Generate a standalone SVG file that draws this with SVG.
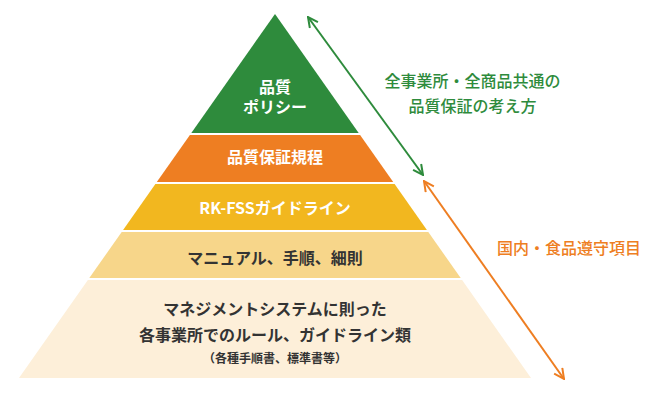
<svg xmlns="http://www.w3.org/2000/svg" width="654" height="406" viewBox="0 0 654 406">
<style>
text{font-family:"Noto Sans CJK JP","Noto Sans",sans-serif;text-anchor:middle;}
.w{fill:#ffffff;font-size:16px;font-weight:bold;}
.d{fill:#333333;font-size:16px;font-weight:bold;}
.s{fill:#333333;font-size:12px;font-weight:bold;}
.gt{fill:#2e8b3c;font-size:16px;font-weight:500;}
.ot{fill:#ee7e22;font-size:16px;font-weight:500;}
.ga{stroke:#2e8b3c;stroke-width:2;fill:none;}
.oa{stroke:#ee7e22;stroke-width:2;fill:none;}
</style>
<defs>
<marker id="mg" viewBox="0 0 12 12" refX="11" refY="6" markerWidth="12" markerHeight="12" markerUnits="userSpaceOnUse" orient="auto-start-reverse">
<path d="M1,1 L11,6 L1,11" fill="none" stroke="#2e8b3c" stroke-width="2"/>
</marker>
<marker id="mo" viewBox="0 0 12 12" refX="11" refY="6" markerWidth="12" markerHeight="12" markerUnits="userSpaceOnUse" orient="auto-start-reverse">
<path d="M1,1 L11,6 L1,11" fill="none" stroke="#ee7e22" stroke-width="2"/>
</marker>
</defs>
<g id="level1">
<polygon points="275,14 358.7,133 191.3,133" fill="#2e8b3c"/>
<text class="w"><tspan x="275" y="93">品質</tspan><tspan x="275" y="113">ポリシー</tspan></text>
</g>
<g id="level2">
<polygon points="189.9,135 360.1,135 393.2,182 156.8,182" fill="#ee7e22"/>
<text class="w" x="275" y="163">品質保証規程</text>
</g>
<g id="level3">
<polygon points="155.4,184 394.6,184 426.9,230 123.1,230" fill="#f2b71f"/>
<text class="w" x="275" y="214">RK-FSSガイドライン</text>
</g>
<g id="level4">
<polygon points="121.7,232 428.3,232 460.7,278 89.3,278" fill="#f7d68a"/>
<text class="d" x="275" y="264">マニュアル、手順、細則</text>
</g>
<g id="level5">
<polygon points="87.9,280 462.1,280 531,378 19,378" fill="#fdefd9"/>
<text class="d"><tspan x="275" y="314.5">マネジメントシステムに則った</tspan><tspan x="275" y="340.5">各事業所でのルール、ガイドライン類</tspan></text>
<text class="s" x="275" y="363">（各種手順書、標準書等）</text>
</g>
<g id="connectors">
<line class="ga" x1="308" y1="17" x2="423" y2="175" marker-start="url(#mg)" marker-end="url(#mg)"/>
<line class="oa" x1="424" y1="181" x2="564" y2="379" marker-start="url(#mo)" marker-end="url(#mo)"/>
</g>
<g id="label-green">
<text class="gt"><tspan x="472.5" y="86.5">全事業所・全商品共通の</tspan><tspan x="472.5" y="111.5">品質保証の考え方</tspan></text>
</g>
<g id="label-orange">
<text class="ot" x="569" y="254">国内・食品遵守項目</text>
</g>
</svg>
